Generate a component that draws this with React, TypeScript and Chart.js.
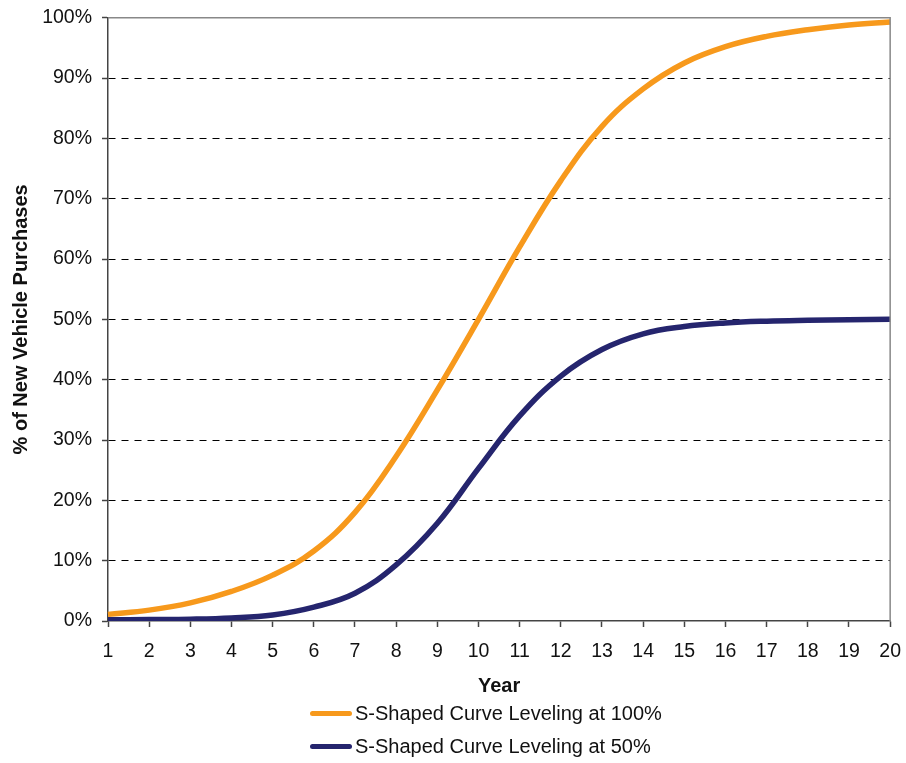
import React, { useEffect, useRef } from "react";
import { Chart, registerables } from "chart.js";

Chart.register(...registerables);

const years = ["1","2","3","4","5","6","7","8","9","10","11","12","13","14","15","16","17","18","19","20"];
const curve100 = [1.1, 1.8, 3.0, 4.9, 7.6, 11.6, 18.0, 27.3, 38.3, 50.0, 62.0, 73.0, 82.0, 88.2, 92.5, 95.2, 96.9, 98.0, 98.8, 99.3];
const curve50 = [0.2, 0.25, 0.3, 0.5, 1.0, 2.3, 4.6, 9.3, 16.2, 25.3, 34.0, 40.6, 45.0, 47.6, 48.8, 49.4, 49.7, 49.85, 49.95, 50.0];
const seriesNames = ["S-Shaped Curve Leveling at 100%", "S-Shaped Curve Leveling at 50%"];
const seriesColors = ["#F7991C", "#25256E"];

const FONT = "'Liberation Sans', Arial, Helvetica, sans-serif";

const framePlugin = {
  id: "frame",
  afterDraw(chart: any) {
    const { ctx, chartArea } = chart;
    ctx.save();
    ctx.strokeStyle = "#888888";
    ctx.lineWidth = 1.5;
    ctx.beginPath();
    ctx.moveTo(chartArea.left, chartArea.top);
    ctx.lineTo(chartArea.right, chartArea.top);
    ctx.lineTo(chartArea.right, chartArea.bottom);
    ctx.stroke();
    ctx.restore();
  },
};

const CW = 914;
const CH = 767;

export default function App() {
  const ref = useRef<HTMLCanvasElement | null>(null);

  useEffect(() => {
    document.body.style.margin = "0";
    if (!ref.current) return;
    const chart = new Chart(ref.current, {
      type: "line",
      data: {
        labels: years,
        datasets: [
          {
            label: seriesNames[0],
            data: curve100,
            borderColor: seriesColors[0],
            backgroundColor: seriesColors[0],
            borderWidth: 5.5,
            pointRadius: 0,
            tension: 0.4,
            fill: false,
          },
          {
            label: seriesNames[1],
            data: curve50,
            borderColor: seriesColors[1],
            backgroundColor: seriesColors[1],
            borderWidth: 5.5,
            pointRadius: 0,
            tension: 0.4,
            fill: false,
          },
        ],
      },
      options: {
        animation: false,
        responsive: false,
        maintainAspectRatio: false,
        devicePixelRatio: 1,
        layout: { padding: { left: 0, top: 0, right: 0, bottom: 62 } },
        plugins: {
          legend: { display: false },
          tooltip: { enabled: false },
        },
        scales: {
          x: {
            type: "category",
            offset: false,
            afterFit(scale: any) {
              scale.height = 80;
            },
            grid: {
              drawOnChartArea: false,
              drawTicks: true,
              tickLength: 6,
              tickColor: "#444444",
              tickWidth: 1.5,
            },
            border: { display: true, color: "#444444", width: 1.5 },
            ticks: {
              color: "#111111",
              font: { family: FONT, size: 19.5 },
              padding: 13,
              maxRotation: 0,
              autoSkip: false,
            },
            title: {
              display: true,
              text: "Year",
              color: "#111111",
              font: { family: FONT, size: 20, weight: "bold" },
              padding: { top: 0, bottom: 3 },
            },
          },
          y: {
            min: 0,
            max: 100,
            afterFit(scale: any) {
              scale.width = 108;
            },
            grid: {
              color: (c: any) => (c.tick && (c.tick.value === 0 || c.tick.value === 100) ? "rgba(0,0,0,0)" : "#000000"),
              lineWidth: 1,
              borderDash: [7, 6],
              tickBorderDash: [],
              tickLength: 6,
              tickColor: "#444444",
              tickWidth: 1.5,
            },
            border: { display: true, color: "#444444", width: 1.5, dash: [7, 6] },
            ticks: {
              stepSize: 10,
              color: "#111111",
              font: { family: FONT, size: 19.5 },
              padding: 10,
              callback: (v: any) => v + "%",
            },
            title: {
              display: true,
              text: "% of New Vehicle Purchases",
              color: "#111111",
              font: { family: FONT, size: 20, weight: "bold" },
              padding: { top: 9, bottom: 0 },
            },
          },
        },
      } as any,
      plugins: [framePlugin],
    });
    return () => chart.destroy();
  }, []);

  const legendTops = [701, 734];

  return (
    <div style={{ position: "relative", width: 906, height: 763, overflow: "hidden" }}>
      <canvas
        ref={ref}
        width={CW}
        height={CH}
        style={{ position: "absolute", left: 0, top: -4, display: "block", width: CW, height: CH }}
      />
      {seriesNames.map((name, i) => (
        <div
          key={name}
          style={{
            position: "absolute",
            left: 310,
            top: legendTops[i],
            height: 24,
            display: "flex",
            alignItems: "center",
            fontFamily: FONT,
            fontSize: 20,
            color: "#111111",
            whiteSpace: "nowrap",
          }}
        >
          <span
            style={{
              display: "inline-block",
              width: 42,
              height: 5,
              borderRadius: 3,
              background: seriesColors[i],
              marginRight: 3,
            }}
          />
          <span>{name}</span>
        </div>
      ))}
    </div>
  );
}
